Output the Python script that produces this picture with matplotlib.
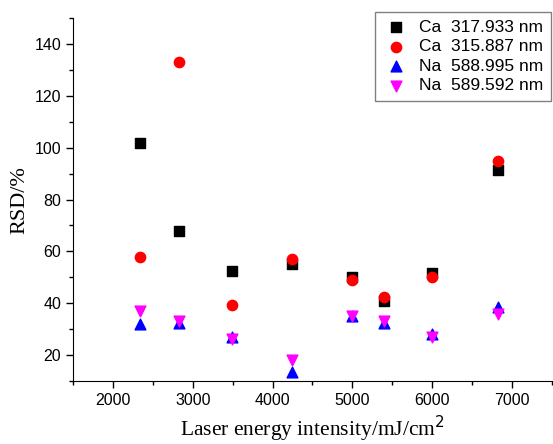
import matplotlib.pyplot as plt
import numpy as np
from matplotlib.ticker import MultipleLocator

energy = [2340, 2830, 3490, 4240, 4990, 5400, 6000, 6830]
ca_317 = [102, 68, 52.5, 55, 50, 41, 51.5, 91.5]
ca_315 = [58, 133, 39.5, 57, 49, 42.5, 50, 95]
na_588 = [32, 32.5, 27, 13.5, 35, 32.5, 28, 38.5]
na_589 = [37, 33, 26, 18, 35, 33, 27, 36]

plt.rcParams['font.family'] = ['Liberation Sans', 'DejaVu Sans']

fig = plt.figure(figsize=(5.53, 4.44), dpi=100)
ax = fig.add_axes([0.132, 0.142, 0.866, 0.817])

ax.scatter(energy, ca_317, marker='s', color='black', s=45, label='Ca  317.933 nm', zorder=3)
ax.scatter(energy, ca_315, marker='o', color='red', s=55, label='Ca  315.887 nm', zorder=3)
ax.scatter(energy, na_588, marker='^', color='blue', s=60, label='Na  588.995 nm', zorder=3)
ax.scatter(energy, na_589, marker='v', color='magenta', s=60, label='Na  589.592 nm', zorder=3)

ax.set_xlim(1500, 7500)
ax.set_ylim(10, 150)
ax.xaxis.set_major_locator(MultipleLocator(1000))
ax.xaxis.set_minor_locator(MultipleLocator(500))
ax.yaxis.set_major_locator(MultipleLocator(20))
ax.yaxis.set_minor_locator(MultipleLocator(10))
ax.set_yticks(np.arange(20, 141, 20))

ax.spines['top'].set_visible(False)
ax.spines['right'].set_visible(False)
ax.tick_params(which='major', length=5, width=1, labelsize=11.5)
ax.tick_params(which='minor', length=3, width=1)

ax.set_xlabel('Laser energy intensity/mJ/cm$^2$', family='Liberation Serif', fontsize=15.5)
ax.set_ylabel('RSD/%', family='Liberation Serif', fontsize=16)

leg = ax.legend(loc='upper right', bbox_to_anchor=(0.998, 1.017), borderaxespad=0,
                fontsize=12.5, fancybox=False, edgecolor='gray', framealpha=1,
                handletextpad=0.5, borderpad=0.45, labelspacing=0.25, handlelength=1.6)
leg.get_frame().set_linewidth(1)

plt.savefig('out.png')
